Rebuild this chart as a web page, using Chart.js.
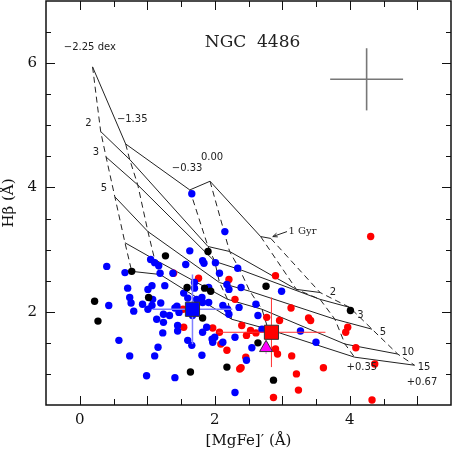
<!DOCTYPE html>
<html>
<head>
<meta charset="utf-8">
<script src="https://cdn.jsdelivr.net/npm/chart.js@4.4.1/dist/chart.umd.min.js"></script>
<style>
  html, body { margin: 0; padding: 0; background: #fff; }
  #wrap { width: 452px; height: 452px; }
</style>
</head>
<body>
<div id="wrap"><canvas id="chart"></canvas></div>
<script>
// galaxy globular clusters
const blueX = [0.40, 0.43, 0.67, 0.71, 0.74, 0.76, 0.80, 0.58, 0.74, 0.93, 1.01, 1.07, 1.05, 1.11, 1.17, 1.19, 1.26, 1.08, 1.07, 1.01,
  1.20, 1.14, 1.24, 1.24, 1.33, 1.23, 1.16, 1.11, 0.99, 1.41, 1.45, 1.45, 1.41, 1.47, 1.44, 1.38, 1.57, 1.63, 1.54, 1.60,
  1.70, 1.70, 1.73, 1.67, 1.60, 1.66, 1.81, 1.82, 1.88, 1.96, 2.00, 1.97, 2.12, 1.82, 1.84, 2.01, 2.07, 2.18, 2.21, 1.81,
  1.82, 1.91, 1.91, 2.12, 2.19, 2.21, 2.30, 2.15, 2.34, 2.36, 2.30, 1.66, 2.39, 2.99, 2.61, 2.64, 2.70, 3.27, 3.50, 2.55, 2.47]
const blueY = [2.73, 2.10, 2.63, 2.38, 2.23, 2.14, 2.01, 1.54, 1.29, 2.12, 2.36, 2.42, 2.84, 2.79, 2.74, 2.62, 2.42, 2.20, 2.10, 2.04,
  2.14, 1.88, 1.96, 1.83, 1.94, 1.66, 1.43, 1.29, 0.97, 0.94, 1.78, 1.69, 2.06, 1.99, 2.09, 2.62, 2.76, 2.98, 2.30, 2.22,
  2.47, 2.38, 2.20, 1.94, 1.54, 1.46, 1.30, 1.67, 1.75, 1.56, 1.59, 1.51, 1.51, 2.82, 2.78, 2.79, 2.62, 2.44, 2.36, 2.23,
  2.15, 2.39, 2.15, 2.10, 2.04, 1.96, 1.59, 3.29, 2.70, 2.07, 0.70, 3.90, 2.39, 2.33, 2.12, 1.94, 1.72, 1.69, 1.51, 1.42, 1.22]

const redX = [1.39, 1.76, 2.21, 2.30, 1.54, 1.97, 2.07, 2.09, 2.18, 2.37, 1.53, 4.31, 2.90, 3.13, 2.96, 2.77, 3.39, 3.42, 3.97, 3.94,
  4.09, 4.37, 3.61, 3.21, 3.24, 2.87, 4.33, 3.14, 2.90, 2.93, 2.46, 2.39, 2.40, 2.53, 2.61, 2.47]
const redY = [2.62, 2.54, 2.52, 2.20, 1.75, 1.74, 1.67, 1.48, 1.38, 1.08, 2.04, 3.21, 2.58, 2.06, 1.86, 1.91, 1.90, 1.86, 1.75, 1.67,
  1.42, 1.16, 1.10, 1.00, 0.74, 0.62, 0.58, 1.29, 1.40, 1.32, 1.27, 1.10, 1.78, 1.70, 1.66, 1.62]

const blackX = [0.22, 0.27, 0.77, 1.27, 1.90, 1.59, 1.85, 1.94, 1.02, 1.82, 1.64, 2.18, 2.76, 4.01, 2.64, 2.87]
const blackY = [2.17, 1.85, 2.65, 2.90, 2.97, 2.39, 2.38, 2.33, 2.23, 1.90, 1.03, 1.11, 2.41, 2.02, 1.50, 0.90]

// mean values with errors
const meanBlue = { x: 1.67, y: 2.04, ex: 0.59, ey: 0.56 }
const meanRed = { x: 2.84, y: 1.67, ex: 0.80, ey: 0.56 }
const meanAll = { x: 2.76, y: 1.42, ex: 0.05, ey: 0.10 }
const typicalErr = { x: 4.25, y: 5.74, ex: 0.54, ey: 0.50 }

// model grid: rows = ages, columns = metallicities
const ages = ['1 Gyr', '2', '3', '5', '10', '15']
const metallicities = ['−2.25 dex', '−1.35', '−0.33', '0.00', '+0.35', '+0.67']
const modelX = [
  [0.19, 0.68, 1.63, 1.93, 2.68, 2.83],
  [0.31, 0.74, 1.90, 2.22, 3.21, 3.56],
  [0.39, 0.86, 2.00, 2.37, 3.56, 4.00],
  [0.52, 1.01, 2.07, 2.52, 3.78, 4.33],
  [0.67, 1.11, 2.19, 2.70, 3.93, 4.71],
  [0.77, 1.19, 2.25, 2.79, 4.07, 4.96]
]
const modelY = [
  [5.94, 4.70, 3.96, 4.10, 3.21, 3.18],
  [4.90, 4.45, 3.05, 2.97, 2.36, 2.31],
  [4.49, 4.04, 2.81, 2.68, 2.20, 2.07],
  [3.85, 3.29, 2.47, 2.33, 1.88, 1.72],
  [3.11, 2.84, 2.20, 2.04, 1.48, 1.32],
  [2.65, 2.60, 1.88, 1.72, 1.27, 1.14]
]

const xTicks = [0, 2, 4]
const yTicks = [2, 4, 6]

// text placed on the plot
const notes = [
  { text: 'NGC  4486', x: 2.56, y: 6.33, font: '17px "DejaVu Serif"', align: 'center' },
  { text: '−2.25 dex', x: 0.15, y: 6.25, font: '10px "DejaVu Sans"', align: 'center' },
  { text: '−1.35', x: 0.55, y: 5.09, font: '10px "DejaVu Sans"', align: 'left' },
  { text: '2', x: 0.13, y: 5.03, font: '10px "DejaVu Sans"', align: 'center' },
  { text: '3', x: 0.24, y: 4.57, font: '10px "DejaVu Sans"', align: 'center' },
  { text: '5', x: 0.36, y: 3.99, font: '10px "DejaVu Sans"', align: 'center' },
  { text: '−0.33', x: 1.59, y: 4.30, font: '10px "DejaVu Sans"', align: 'center' },
  { text: '0.00', x: 1.96, y: 4.49, font: '10px "DejaVu Sans"', align: 'center' },
  { text: '1 Gyr', x: 3.30, y: 3.30, font: '10px "DejaVu Serif"', align: 'center' },
  { text: '2', x: 3.75, y: 2.31, font: '10px "DejaVu Sans"', align: 'center' },
  { text: '3', x: 4.16, y: 1.94, font: '10px "DejaVu Sans"', align: 'center' },
  { text: '5', x: 4.49, y: 1.66, font: '10px "DejaVu Sans"', align: 'center' },
  { text: '10', x: 4.86, y: 1.35, font: '10px "DejaVu Sans"', align: 'center' },
  { text: '15', x: 5.10, y: 1.10, font: '10px "DejaVu Sans"', align: 'center' },
  { text: '+0.35', x: 4.18, y: 1.10, font: '10px "DejaVu Sans"', align: 'center' },
  { text: '+0.67', x: 5.07, y: 0.86, font: '10px "DejaVu Sans"', align: 'center' }
]
const arrowFrom = { x: 3.07, y: 3.29 }
const arrowTo = { x: 2.86, y: 3.21 }

const toPoints = (xs, ys) => xs.map((x, i) => ({ x, y: ys[i] }))

const lineSet = (pts, opts = {}) => ({
  type: 'scatter',
  data: pts,
  showLine: true,
  pointRadius: 0,
  borderColor: '#222',
  borderWidth: 1,
  fill: false,
  order: 10,
  ...opts
})

const errorBars = (m, color, width) => [
  lineSet([{ x: m.x - m.ex, y: m.y }, { x: m.x + m.ex, y: m.y }], { borderColor: color, borderWidth: width, order: 2 }),
  lineSet([{ x: m.x, y: m.y - m.ey }, { x: m.x, y: m.y + m.ey }], { borderColor: color, borderWidth: width, order: 2 })
]

const datasets = []

ages.forEach((age, i) => {
  datasets.push(lineSet(toPoints(modelX[i], modelY[i])))
})
metallicities.forEach((z, j) => {
  const xs = modelX.map(row => row[j])
  const ys = modelY.map(row => row[j])
  datasets.push(lineSet(toPoints(xs, ys), { borderDash: [6, 4] }))
})

const dots = (xs, ys, color) => ({
  type: 'scatter',
  data: toPoints(xs, ys),
  backgroundColor: color,
  borderWidth: 0,
  pointRadius: 3.7,
  order: 5
})
datasets.push(dots(blackX, blackY, '#000'))
datasets.push(dots(blueX, blueY, '#0000ff'))
datasets.push(dots(redX, redY, '#ff0000'))

datasets.push(...errorBars(typicalErr, '#777', 1.6))
datasets.push(...errorBars(meanBlue, '#8080ff', 1.5))
datasets.push(...errorBars(meanRed, '#ff3030', 1))
datasets.push(...errorBars(meanAll, '#ff60ff', 1))

const bigMarker = (m, style, color, r) => ({
  type: 'scatter',
  data: [{ x: m.x, y: m.y }],
  pointStyle: style,
  pointRadius: r,
  backgroundColor: color,
  borderColor: '#333',
  borderWidth: 1,
  order: 0
})
datasets.push(bigMarker(meanBlue, 'rect', '#0000ff', 10))
datasets.push(bigMarker(meanRed, 'rect', '#ff0000', 10))
datasets.push(bigMarker(meanAll, 'triangle', '#ff00ff', 7.5))

// frame with inward ticks on all four sides, plus the text notes
const framePlugin = {
  id: 'frame',
  afterDatasetsDraw(chart) {
    const { ctx, chartArea: a, scales: { x, y } } = chart
    ctx.save()
    ctx.strokeStyle = '#111'
    ctx.lineWidth = 1
    ctx.beginPath()
    for (let v = 0; v <= 5.01; v += 0.5) {
      const px = Math.round(x.getPixelForValue(v)) + 0.5
      const len = Number.isInteger(v) ? 9 : 6
      ctx.moveTo(px, a.bottom); ctx.lineTo(px, a.bottom - len)
      ctx.moveTo(px, a.top); ctx.lineTo(px, a.top + len)
    }
    for (let v = 1; v <= 6.51; v += 0.5) {
      const py = Math.round(y.getPixelForValue(v)) + 0.5
      const len = v % 2 === 0 ? 9 : 5
      ctx.moveTo(a.left, py); ctx.lineTo(a.left + len, py)
      ctx.moveTo(a.right, py); ctx.lineTo(a.right - len, py)
    }
    ctx.stroke()
    ctx.lineWidth = 1.5
    ctx.strokeRect(a.left, a.top, a.right - a.left, a.bottom - a.top)

    ctx.fillStyle = '#222'
    ctx.textBaseline = 'middle'
    notes.forEach(n => {
      ctx.font = n.font
      ctx.textAlign = n.align
      ctx.fillText(n.text, x.getPixelForValue(n.x), y.getPixelForValue(n.y))
    })

    // arrow towards the 1 Gyr line
    const x0 = x.getPixelForValue(arrowFrom.x), y0 = y.getPixelForValue(arrowFrom.y)
    const x1 = x.getPixelForValue(arrowTo.x), y1 = y.getPixelForValue(arrowTo.y)
    const ang = Math.atan2(y1 - y0, x1 - x0)
    ctx.lineWidth = 1
    ctx.strokeStyle = '#222'
    ctx.beginPath()
    ctx.moveTo(x0, y0); ctx.lineTo(x1, y1)
    ctx.moveTo(x1 - 5 * Math.cos(ang - 0.4), y1 - 5 * Math.sin(ang - 0.4))
    ctx.lineTo(x1, y1)
    ctx.lineTo(x1 - 5 * Math.cos(ang + 0.4), y1 - 5 * Math.sin(ang + 0.4))
    ctx.stroke()
    ctx.restore()
  }
}

const axisFont = { family: '"DejaVu Serif"', size: 15 }

new Chart(document.getElementById('chart'), {
  type: 'scatter',
  data: { datasets },
  options: {
    responsive: true,
    maintainAspectRatio: false,
    animation: false,
    events: [],
    layout: { autoPadding: false, padding: { top: 1, right: 1, left: 0, bottom: 0 } },
    plugins: { legend: { display: false }, tooltip: { enabled: false } },
    scales: {
      x: {
        type: 'linear',
        min: -0.5,
        max: 5.5,
        grid: { display: false, drawTicks: false },
        border: { display: false },
        ticks: { color: '#111', font: axisFont, padding: 6, maxRotation: 0 },
        afterBuildTicks: s => { s.ticks = xTicks.map(value => ({ value })) },
        title: { display: true, text: '[MgFe]′ (Å)', color: '#111', font: axisFont, padding: { top: 0, bottom: 2 } },
        afterFit: s => {
          s.height = 47
          s.paddingLeft = 0
          s.paddingRight = 0
        }
      },
      y: {
        type: 'linear',
        min: 0.5,
        max: 7,
        grid: { display: false, drawTicks: false },
        border: { display: false },
        ticks: { color: '#111', font: axisFont, padding: 9 },
        afterBuildTicks: s => { s.ticks = yTicks.map(value => ({ value })) },
        title: { display: true, text: 'Hβ (Å)', color: '#111', font: axisFont, padding: { top: 0, bottom: 4 } },
        afterFit: s => {
          s.width = 46
          s.paddingTop = 0
          s.paddingBottom = 0
        }
      }
    }
  },
  plugins: [framePlugin]
})
</script>
</body>
</html>
